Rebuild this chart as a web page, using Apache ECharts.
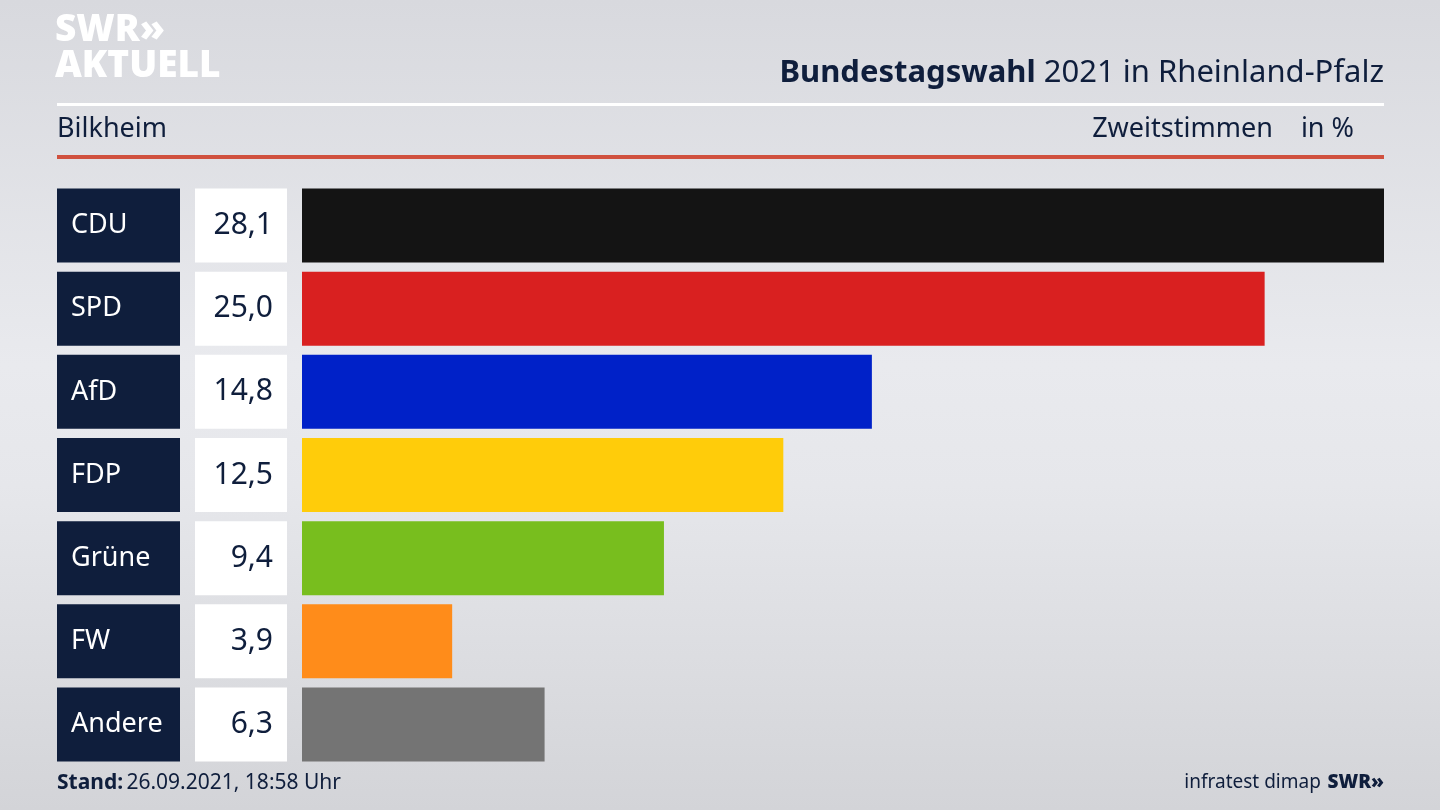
<!DOCTYPE html>
<html>
<head>
<meta charset="utf-8">
<script src="https://cdn.jsdelivr.net/npm/echarts@6/dist/echarts.min.js"></script>
<style>
  html, body { margin: 0; height: 100%; }
  body { background: linear-gradient(180deg, #d8d9de 0%, #e9eaee 45%, #e6e7eb 60%, #d3d4d8 100%); }
  #chart { width: 1440px; height: 810px; }
</style>
</head>
<body>
<div id="chart"></div>
<script>
var parties = ['CDU', 'SPD', 'AfD', 'FDP', 'Grüne', 'FW', 'Andere'];
var values = [28.1, 25.0, 14.8, 12.5, 9.4, 3.9, 6.3];
var colors = ['#141414', '#d92020', '#0021c8', '#ffcc0a', '#78be1e', '#ff8c1a', '#747474'];

var navy = '#0f1e3c';
var font = '"Noto Sans", sans-serif';
var chart = echarts.init(document.getElementById('chart'));

function fmt(v) { return v.toFixed(1).replace('.', ','); }

chart.setOption({
  animation: false,
  textStyle: { fontFamily: font },
  grid: { left: 302, right: 56, top: 184, bottom: 44 },
  xAxis: { type: 'value', min: 0, max: 28.1, show: false },
  yAxis: {
    type: 'category', inverse: true, data: parties,
    axisLine: { show: false }, axisTick: { show: false },
    axisLabel: {
      margin: 15,
      formatter: function (name, i) {
        return '{n|' + name + '}{g|}{v|' + fmt(values[i]) + '}';
      },
      rich: {
        n: { width: 109, height: 74, padding: [0, 0, 0, 14], backgroundColor: navy, color: '#fff', fontSize: 27, fontFamily: font, align: 'left' },
        g: { width: 15, height: 74 },
        v: { width: 78, height: 74, padding: [0, 14, 0, 0], backgroundColor: '#fff', color: navy, fontSize: 30, fontFamily: font, align: 'right' }
      }
    }
  },
  series: [{
    type: 'bar',
    barCategoryGap: '11%',
    data: values.map(function (v, i) { return { value: v, itemStyle: { color: colors[i] } }; })
  }],
  graphic: [
    { type: 'text', left: 55, top: 12, style: { text: 'SWR»', fill: '#fff', font: '900 37px "Noto Sans"' } },
    { type: 'text', left: 55, top: 48, style: { text: 'AKTUELL', fill: '#fff', font: '900 37px "Noto Sans"' } },
    { type: 'text', right: 56, top: 58, style: { rich: {
        b: { fill: navy, fontSize: 31, fontWeight: 'bold', fontFamily: font },
        r: { fill: navy, fontSize: 31, fontFamily: font } },
      text: '{b|Bundestagswahl}{r| 2021 in Rheinland-Pfalz}' } },
    { type: 'rect', shape: { x: 57, y: 103, width: 1327, height: 3 }, style: { fill: '#fff' } },
    { type: 'text', left: 57, top: 116, style: { text: 'Bilkheim', fill: navy, font: '27px "Noto Sans"' } },
    { type: 'text', right: 86, top: 116, style: { text: 'Zweitstimmen    in %', fill: navy, font: '27px "Noto Sans"' } },
    { type: 'rect', shape: { x: 57, y: 155, width: 1327, height: 4 }, style: { fill: '#d0513f' } },
    { type: 'text', left: 57, top: 773, style: { rich: {
        b: { fill: navy, fontSize: 21, fontWeight: 'bold', fontFamily: font },
        r: { fill: navy, fontSize: 21, fontFamily: font } },
      text: '{b|Stand:} {r|26.09.2021, 18:58 Uhr}' } },
    { type: 'text', right: 56, top: 773, style: { rich: {
        r: { fill: navy, fontSize: 19, fontFamily: font },
        b: { fill: navy, fontSize: 19, fontWeight: 900, fontFamily: font } },
      text: '{r|infratest dimap}  {b|SWR»}' } }
  ]
});
</script>
</body>
</html>
